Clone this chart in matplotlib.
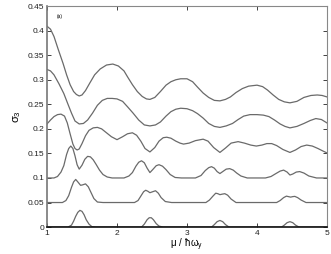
import matplotlib
matplotlib.use("Agg")
import matplotlib.pyplot as plt

plt.rcParams["font.family"] = ["Liberation Sans", "DejaVu Sans"]

# ── Curves (bottom to top) ───────────────────────────────────────────────────
x1 = [1.0, 1.3, 1.35, 1.38, 1.41, 1.44, 1.47, 1.5, 1.53, 1.56, 1.6, 1.64, 1.7,
      2.35, 2.39, 2.43, 2.46, 2.49, 2.52, 2.56, 2.6, 2.66,
      3.35, 3.39, 3.43, 3.47, 3.51, 3.55, 3.6,
      4.35, 4.39, 4.43, 4.47, 4.51, 4.55, 4.6, 5.0]
y1 = [0.0, 0.0, 0.004, 0.012, 0.022, 0.030, 0.034, 0.032, 0.025, 0.015, 0.006, 0.001, 0.0,
      0.0, 0.006, 0.015, 0.019, 0.019, 0.015, 0.007, 0.002, 0.0,
      0.0, 0.005, 0.011, 0.0135, 0.011, 0.005, 0.0,
      0.0, 0.004, 0.009, 0.011, 0.009, 0.004, 0.0, 0.0]

x2 = [1.0, 1.22, 1.27, 1.31, 1.35, 1.38, 1.41, 1.44, 1.48, 1.51, 1.55, 1.59, 1.63, 1.67, 1.72, 1.8,
      2.25, 2.3, 2.34, 2.38, 2.41, 2.44, 2.47, 2.51, 2.55, 2.59, 2.63, 2.69, 2.78,
      3.27, 3.32, 3.37, 3.41, 3.44, 3.47, 3.5, 3.54, 3.58, 3.63, 3.7,
      4.28, 4.33, 4.38, 4.42, 4.45, 4.48, 4.51, 4.54, 4.58, 4.63, 4.7, 5.0]
y2 = [0.05, 0.05, 0.054, 0.064, 0.081, 0.092, 0.097, 0.092, 0.085, 0.086, 0.088, 0.082, 0.07, 0.058, 0.051, 0.05,
      0.05, 0.054, 0.063, 0.072, 0.075, 0.073, 0.07, 0.072, 0.074, 0.069, 0.06, 0.052, 0.05,
      0.05, 0.055, 0.063, 0.069, 0.068, 0.066, 0.067, 0.068, 0.065, 0.057, 0.05,
      0.05, 0.054, 0.06, 0.063, 0.062, 0.061, 0.062, 0.0625, 0.06, 0.055, 0.05, 0.05]

x3 = [1.0, 1.1, 1.15, 1.2, 1.24, 1.28, 1.31, 1.34, 1.37, 1.4, 1.43, 1.46, 1.5, 1.54, 1.58, 1.62,
      1.66, 1.7, 1.75, 1.8, 1.86, 1.93, 2.1, 2.17, 2.22, 2.27, 2.31, 2.35, 2.39, 2.43, 2.47,
      2.51, 2.56, 2.6, 2.65, 2.7, 2.76, 2.83, 2.92, 3.12, 3.2, 3.26, 3.31, 3.35, 3.39, 3.43,
      3.47, 3.51, 3.56, 3.61, 3.66, 3.71, 3.77, 3.86, 4.12, 4.2, 4.27, 4.33, 4.38, 4.43, 4.47,
      4.51, 4.56, 4.61, 4.67, 4.74, 4.85, 5.0]
y3 = [0.1, 0.1, 0.103, 0.112, 0.125, 0.148, 0.160, 0.165, 0.160, 0.145, 0.127, 0.118, 0.126, 0.138, 0.144, 0.143,
      0.137, 0.128, 0.116, 0.107, 0.102, 0.1, 0.1, 0.104, 0.111, 0.124, 0.132, 0.135, 0.131, 0.12, 0.111,
      0.117, 0.125, 0.127, 0.124, 0.117, 0.107, 0.101, 0.1, 0.1, 0.105, 0.115, 0.121, 0.123, 0.12, 0.113,
      0.109, 0.113, 0.118, 0.119, 0.116, 0.11, 0.104, 0.1, 0.1, 0.103, 0.109, 0.114, 0.116, 0.112, 0.106,
      0.108, 0.112, 0.113, 0.11, 0.104, 0.1, 0.1]

x4 = [1.0, 1.05, 1.1, 1.15, 1.2, 1.25, 1.29, 1.33, 1.37, 1.4, 1.43, 1.46, 1.5, 1.55, 1.6, 1.66,
      1.72, 1.78, 1.85, 1.92, 2.0, 2.08, 2.15, 2.22, 2.28, 2.34, 2.4, 2.47, 2.54, 2.6, 2.66, 2.71,
      2.77, 2.84, 2.9, 2.95, 3.03, 3.12, 3.23, 3.3, 3.38, 3.47, 3.55, 3.63, 3.73, 3.82, 3.91, 3.99,
      4.07, 4.14, 4.21, 4.28, 4.37, 4.47, 4.55, 4.63, 4.71, 4.79, 4.87, 4.94, 5.0]
y4 = [0.21, 0.218, 0.225, 0.229, 0.23, 0.226, 0.212, 0.19, 0.169, 0.16, 0.157, 0.159, 0.17, 0.186, 0.197, 0.202,
      0.203, 0.2, 0.192, 0.184, 0.178, 0.184, 0.19, 0.192, 0.187, 0.175, 0.16, 0.153, 0.162, 0.175, 0.182, 0.183,
      0.181, 0.175, 0.171, 0.169, 0.171, 0.176, 0.179, 0.175, 0.162, 0.152, 0.161, 0.171, 0.174, 0.171, 0.167, 0.165,
      0.167, 0.17, 0.17, 0.166, 0.158, 0.152, 0.157, 0.164, 0.167, 0.165, 0.16, 0.155, 0.151]

x5 = [1.0, 1.05, 1.1, 1.17, 1.24, 1.3, 1.35, 1.4, 1.46, 1.52, 1.58, 1.65, 1.72, 1.79, 1.86, 1.93,
      2.0, 2.08, 2.15, 2.23, 2.31, 2.39, 2.47, 2.55, 2.62, 2.7, 2.77, 2.84, 2.91, 3.0, 3.08, 3.15,
      3.23, 3.31, 3.39, 3.47, 3.56, 3.65, 3.73, 3.81, 3.9, 4.0, 4.09, 4.17, 4.25, 4.33, 4.4, 4.47,
      4.57, 4.67, 4.76, 4.84, 4.92, 5.0]
y5 = [0.321, 0.318, 0.31, 0.292, 0.272, 0.25, 0.232, 0.216, 0.21, 0.211, 0.218, 0.232, 0.248, 0.258, 0.262, 0.262,
      0.261, 0.256, 0.245, 0.232, 0.218, 0.208, 0.206, 0.208, 0.214, 0.226, 0.235, 0.24, 0.242, 0.241, 0.237, 0.231,
      0.222, 0.211, 0.205, 0.203, 0.206, 0.211, 0.219, 0.226, 0.229, 0.229, 0.228, 0.225, 0.218, 0.21, 0.205, 0.202,
      0.205, 0.211, 0.217, 0.221, 0.219, 0.212]

x6 = [1.0, 1.05, 1.1, 1.16, 1.23, 1.28, 1.33, 1.38, 1.42, 1.46, 1.5, 1.55, 1.61, 1.68, 1.76, 1.85,
      1.94, 2.02, 2.1, 2.15, 2.22, 2.29, 2.36, 2.42, 2.47, 2.54, 2.62, 2.7, 2.77, 2.84, 2.91, 3.0,
      3.08, 3.15, 3.23, 3.31, 3.39, 3.47, 3.55, 3.62, 3.7, 3.79, 3.88, 4.0, 4.08, 4.15, 4.23, 4.31,
      4.39, 4.47, 4.57, 4.67, 4.77, 4.86, 4.93, 5.0]
y6 = [0.409, 0.403, 0.388, 0.362, 0.333, 0.31, 0.29, 0.276, 0.27, 0.267, 0.269, 0.278, 0.293, 0.31, 0.322, 0.33,
      0.332, 0.328, 0.318, 0.306, 0.29, 0.276, 0.266, 0.261, 0.26, 0.264, 0.276, 0.289, 0.296, 0.3, 0.302, 0.302,
      0.296, 0.285, 0.273, 0.264, 0.258, 0.257, 0.26, 0.265, 0.274, 0.282, 0.287, 0.289, 0.286, 0.279, 0.269, 0.26,
      0.255, 0.253, 0.256, 0.264, 0.268, 0.269, 0.268, 0.265]

curves = [(x1, y1), (x2, y2), (x3, y3), (x4, y4), (x5, y5), (x6, y6)]

x_ticks = [1, 2, 3, 4, 5]
y_ticks = [0, 0.05, 0.1, 0.15, 0.2, 0.25, 0.3, 0.35, 0.4, 0.45]
y_tick_labels = ["0", "0.05", "0.1", "0.15", "0.2", "0.25", "0.3", "0.35", "0.4", "0.45"]

LINE = "#6a6a6a"

fig = plt.figure(figsize=(3.31, 2.54), dpi=100)
ax = fig.add_axes([0.142, 0.106, 0.846, 0.870])

for xs, ys in curves:
    ax.plot(xs, ys, color=LINE, lw=0.9)

ax.set_xlim(1, 5)
ax.set_ylim(0, 0.45)
ax.set_xticks(x_ticks)
ax.set_xticklabels([str(t) for t in x_ticks])
ax.set_yticks(y_ticks)
ax.set_yticklabels(y_tick_labels)
ax.tick_params(direction="in", top=True, right=True, length=3, width=0.6,
               labelsize=6, colors="#222222", pad=2)

for side in ["top", "right"]:
    ax.spines[side].set_color("#888888")
    ax.spines[side].set_linewidth(0.8)
ax.spines["left"].set_color("#777777")
ax.spines["left"].set_linewidth(1.2)
ax.spines["bottom"].set_color("#111111")
ax.spines["bottom"].set_linewidth(1.2)

ax.set_xlabel(r"$\mathregular{\mu\ /\ \hbar\omega_y}$", fontsize=7, labelpad=0)
ax.set_ylabel(r"$\mathregular{\sigma_3}$", fontsize=8, labelpad=3)
ax.text(0.035, 0.965, "(a)", transform=ax.transAxes, fontsize=3.5, va="top", ha="left")

fig.savefig("out.png", dpi=100)
